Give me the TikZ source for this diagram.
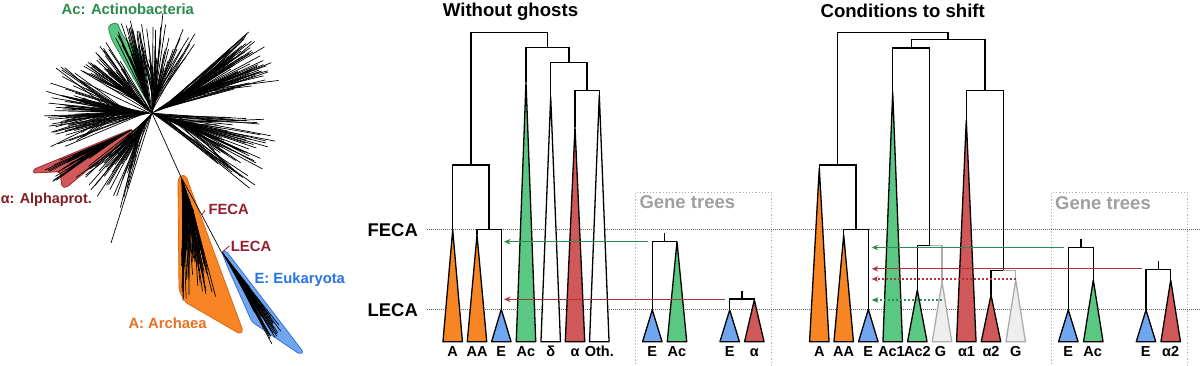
\documentclass[tikz,border=0pt]{standalone}
\usepackage{fontspec}
\setmainfont{Liberation Sans}
\usetikzlibrary{calc,arrows.meta}
\definecolor{cgreen}{RGB}{90,200,130}
\definecolor{cgreenD}{RGB}{40,140,80}
\definecolor{corange}{RGB}{247,133,36}
\definecolor{corangeD}{RGB}{220,105,20}
\definecolor{cred}{RGB}{208,88,88}
\definecolor{credD}{RGB}{160,45,50}
\definecolor{cblue}{RGB}{112,165,240}
\definecolor{cblueD}{RGB}{50,115,225}
\definecolor{tgreen}{RGB}{40,140,75}
\definecolor{tred}{RGB}{130,28,35}
\definecolor{tfeca}{RGB}{150,30,45}
\definecolor{tblue}{RGB}{40,115,235}
\definecolor{torange}{RGB}{232,112,30}
\definecolor{agreen}{RGB}{45,140,85}
\definecolor{ared}{RGB}{170,55,60}
\definecolor{ghostF}{RGB}{238,238,238}
\definecolor{ghostD}{RGB}{172,172,172}
\definecolor{boxgray}{RGB}{175,175,175}
\definecolor{gtgray}{RGB}{160,160,160}
\definecolor{refgray}{RGB}{95,95,95}
\newcommand\cladetri[5]{%
  \coordinate (#1) at (#2,#3);
  \filldraw[tri, fill=#4, draw=#5] (#1) -- ({#2-9.75},341.7) -- ({#2+9.75},341.7) -- cycle;}
\newcommand\fan[8]{%
  \foreach \k in {1,...,#8}{%
    \pgfmathsetmacro\fa{#4+rnd*(#5-#4)}%
    \pgfmathsetmacro\fl{#6+rnd*(#7-#6)}%
    \pgfmathsetmacro\fs{rnd*0.6*#6}%
    \draw[twig] ($(#1,#2)+(#3:\fs)$) -- ($(#1,#2)+(\fa:\fl)$);
  }}
\tikzset{
  br/.style={line width=1.4pt},
  gbr/.style={line width=1.4pt, draw=ghostD},
  tri/.style={line width=1.3pt, line join=round},
  twig/.style={line width=0.7pt, black},
  refline/.style={draw=refgray, line width=0.9pt, dash pattern=on 1pt off 1pt},
  gbox/.style={draw=boxgray, line width=1pt, dash pattern=on 1.2pt off 2pt},
  arr/.style={line width=1.4pt, -{Stealth[length=6.5pt,width=5.5pt]}},
  darr/.style={arr, dash pattern=on 2pt off 2pt},
  ttl/.style={font=\bfseries\fontsize{18.6}{20}\selectfont, inner sep=0pt, anchor=base},
  lvl/.style={font=\bfseries\fontsize{18.4}{20}\selectfont, inner sep=0pt, anchor=east},
  tl/.style={font=\bfseries\fontsize{14.5}{16}\selectfont, inner sep=0pt, anchor=base},
  gt/.style={font=\bfseries\fontsize{18.5}{20}\selectfont, inner sep=0pt, anchor=base west, text=gtgray},
  ll/.style={font=\bfseries\fontsize{14.8}{16}\selectfont, inner sep=0pt},
  hull/.style={line width=0.8pt, rounded corners=2pt, line join=round},
}
\begin{document}
\begin{tikzpicture}[x=1pt,y=-1pt]
\useasboundingbox (0,0) rectangle (1200,366);
\fill[white] (0,0) rectangle (1200,366);

% ---------------- left: unrooted tree ----------------
\pgfmathsetseed{11}
\filldraw[hull, fill=cgreen, draw=cgreenD] (109,25) -- (117,22.5) -- (123,36) -- (131,45.5) -- (139,50) -- (144,66.7) -- (148.8,97) -- (147,101) -- (144.5,97) -- (112.5,41) -- (108.5,30) -- cycle;
\filldraw[hull, fill=cred, draw=credD] (33.3,169.5) -- (131.7,129) -- (133.5,132) -- (66.7,187.3) -- (62,187.3) -- (60,171.7) -- (33.3,173) -- cycle;
\filldraw[hull, fill=corange, draw=corangeD] (181,175) -- (186,176) -- (243,331) -- (240,334) -- (185,302) -- (179,290) -- (178,180) -- cycle;
\filldraw[hull, fill=cblue, draw=cblueD] (221.7,251.7) -- (226,250.7) -- (303.3,352) -- (300,354.3) -- (252,322) -- (228,268) -- cycle;

\fan{152}{113}{-27}{-40}{-14}{85}{132}{70}
\fan{152}{113}{18}{3}{38}{65}{128}{70}
\fan{152}{113}{-78}{-100}{-55}{45}{90}{45}
\fan{152}{113}{-108}{-117}{-99}{55}{97}{35}
\fan{152}{113}{182}{158}{208}{70}{108}{80}
\fan{152}{113}{-135}{-150}{-120}{50}{85}{45}
\fan{135}{128}{152}{145}{157}{45}{100}{45}
\fan{152}{113}{123}{108}{140}{50}{100}{45}
\fan{181}{177}{70}{73}{90}{60}{125}{75}
\fan{222}{252}{55}{51}{62}{35}{105}{50}
\coordinate (ctr) at (152,113);
\coordinate (fecaP) at (201.8,215);
\coordinate (lecaP) at (221.7,252.7);
\coordinate (ctop) at (163,13);
\coordinate (cbot) at (111,243);
\draw[twig] (ctr) -- (ctop);
\draw[twig] (ctr) -- (cbot);
\draw[twig] (ctr) -- (181,177) -- (fecaP) -- (lecaP);

\node[ll, text=tgreen, anchor=base] (lAc) at (127.8,15) {Ac: Actinobacteria};
\node[ll, text=tred, anchor=base east, font=\bfseries\fontsize{14.4}{16}\selectfont] (lAl) at (92,203.3) {α: Alphaprot.};
\node[ll, text=tfeca, anchor=base west] (lFe) at (208.3,214.3) {FECA};
\node[ll, text=tfeca, anchor=base west] (lLe) at (230.7,252) {LECA};
\node[ll, text=tblue, anchor=base west] (lEu) at (254.3,283.3) {E: Eukaryota};
\node[ll, text=torange, anchor=base west] (lAr) at (128.3,328.3) {A: Archaea};
\draw[tfeca, line width=0.8pt] (205,210) -- (fecaP);
\draw[tfeca, line width=0.8pt] (229.3,246) -- (lecaP);

% ---------------- reference lines and boxes ----------------
\node[lvl] (feca) at (418,230) {FECA};
\node[lvl] (leca) at (418,309.7) {LECA};
\coordinate (fecaL) at (427,229.3); \coordinate (fecaR) at (1200,229.3);
\coordinate (lecaL) at (427,309.3); \coordinate (lecaR) at (1200,309.3);
\draw[refline] (fecaL) -- (fecaR);
\draw[refline] (lecaL) -- (lecaR);
\draw[gbox] (635.7,367) |- (771.7,192.3) -- (771.7,367);
\draw[gbox] (1051.7,367) |- (1187.7,192.3) -- (1187.7,367);
\node[gt] (gt1) at (639.3,208.3) {Gene trees};
\node[gt] (gt2) at (1055,209.3) {Gene trees};

% ---------------- middle: without ghosts ----------------
\node[ttl] (t1) at (510.5,17) {Without ghosts};
\cladetri{mA}{452.7}{230}{corange}{black}
\cladetri{mAA}{477}{235}{corange}{black}
\cladetri{mE}{501.3}{309.3}{cblue}{black}
\cladetri{mAc}{526}{82}{cgreen}{black}
\cladetri{mD}{550.7}{97}{white}{black}
\cladetri{mAl}{575}{127}{cred}{black}
\cladetri{mO}{599.3}{95}{white}{black}
\coordinate (mn2) at (489.15,229.3);
\coordinate (mn1) at (470.9,165);
\coordinate (mn5) at (587.15,90.3);
\coordinate (mn4) at (568.9,62.7);
\coordinate (mn3) at (547.45,47.3);
\coordinate (mroot) at (509.2,32.7);
\draw[br] (mAA) |- (mn2) -| (mE);
\draw[br] (mA) |- (mn1) -| (mn2);
\draw[br] (mAl) |- (mn5) -| (mO);
\draw[br] (mD) |- (mn4) -| (mn5);
\draw[br] (mAc) |- (mn3) -| (mn4);
\draw[br] (mn1) |- (mroot) -| (mn3);
\foreach \n/\x/\t in {A/452.7/A, AA/477/AA, E/501.3/E, Ac/526/Ac, D/550.7/δ, Al/575/α, O/599.3/Oth.}
  \node[tl] (ml\n) at (\x,356.7) {\t};

% gene trees (middle)
\cladetri{gE1}{652.3}{310}{cblue}{black}
\cladetri{gAc}{677}{241.7}{cgreen}{black}
\cladetri{gE2}{729.7}{310}{cblue}{black}
\cladetri{gAl}{754.3}{300}{cred}{black}
\coordinate (g1) at (664.65,241.7); \coordinate (g1s) at (664.65,233.3);
\coordinate (g2) at (742,299); \coordinate (g2s) at (742,290.7);
\draw[br] (gE1) |- (g1) -| (gAc); \draw[br] (g1) -- (g1s);
\draw[br] (gE2) |- (g2) -| (gAl); \draw[br] (g2) -- (g2s);
\foreach \n/\x/\t in {E1/652.3/E, Ac/677/Ac, E2/729.7/E, Al/754.3/α}
  \node[tl] (gl\n) at (\x,356.7) {\t};
\coordinate (ma1s) at (648,241.7); \coordinate (ma1e) at (504,241.7);
\coordinate (ma2s) at (725,299.3); \coordinate (ma2e) at (504,299.3);
\draw[arr, agreen] (ma1s) -- (ma1e);
\draw[arr, ared] (ma2s) -- (ma2e);

% ---------------- right: conditions to shift ----------------
\node[ttl] (t2) at (902.7,17.3) {Conditions to shift};
\cladetri{rA}{819.3}{168}{corange}{black}
\cladetri{rAA}{843.7}{235}{corange}{black}
\cladetri{rE}{868.3}{309.3}{cblue}{black}
\cladetri{rAc1}{892.7}{92}{cgreen}{black}
\cladetri{rAc2}{917.3}{290}{cgreen}{black}
\cladetri{rG1}{942}{282}{ghostF}{ghostD}
\cladetri{rAl1}{966.3}{120}{cred}{black}
\cladetri{rAl2}{991}{295}{cred}{black}
\cladetri{rG2}{1015.7}{280}{ghostF}{ghostD}
\coordinate (rn2) at (856,229.3);
\coordinate (rn1) at (837.65,165);
\coordinate (rn6) at (929.65,245.8);
\coordinate (rn4) at (911.2,48);
\coordinate (rn7) at (1003.35,270.5);
\coordinate (rn5) at (984.8,90.3);
\coordinate (rn3) at (948,39.3);
\coordinate (rroot) at (892.8,32.7);
\draw[br] (rAA) |- (rn2) -| (rE);
\draw[br] (rA) |- (rn1) -| (rn2);
\draw[gbr] (rn6) -| (rG1);
\draw[br] (rAc2) |- (rn6);
\draw[br] (rAc1) |- (rn4) -| (rn6);
\draw[gbr] (rn7) -| (rG2);
\draw[br] (rAl2) |- (rn7);
\draw[br] (rAl1) |- (rn5) -| (rn7);
\draw[br] (rn4) |- (rn3) -| (rn5);
\draw[br] (rn1) |- (rroot) -| (rn3);
\foreach \n/\x/\t in {A/819.3/A, AA/843.7/AA, E/868.3/E, Ac1/891.5/Ac1, Ac2/917.5/Ac2, G1/940.5/G, Al1/966.5/α1, Al2/991/α2, G2/1015.7/G}
  \node[tl] (rl\n) at (\x,356.7) {\t};

% gene trees (right)
\cladetri{hE1}{1068.3}{310}{cblue}{black}
\cladetri{hAc}{1093.3}{280}{cgreen}{black}
\cladetri{hE2}{1146}{310}{cblue}{black}
\cladetri{hAl}{1170.7}{280}{cred}{black}
\coordinate (h1) at (1080.8,247.3); \coordinate (h1s) at (1080.8,239);
\coordinate (h2) at (1158.35,269.3); \coordinate (h2s) at (1158.35,260.7);
\draw[br] (hE1) |- (h1) -| (hAc); \draw[br] (h1) -- (h1s);
\draw[br] (hE2) |- (h2) -| (hAl); \draw[br] (h2) -- (h2s);
\foreach \n/\x/\t in {E1/1068.3/E, Ac/1092.7/Ac, E2/1145.7/E, Al/1170.7/α2}
  \node[tl] (hl\n) at (\x,356.7) {\t};
\coordinate (ra1s) at (1064,247.5); \coordinate (ra1e) at (871.7,247.5);
\coordinate (ra2s) at (1141.7,268.8); \coordinate (ra2e) at (871.7,268.8);
\coordinate (ra3s) at (1015.7,279); \coordinate (ra3e) at (871.7,279);
\coordinate (ra4s) at (942,300); \coordinate (ra4e) at (871.7,300);
\draw[arr, agreen] (ra1s) -- (ra1e);
\draw[arr, ared] (ra2s) -- (ra2e);
\draw[darr, ared] (ra3s) -- (ra3e);
\draw[darr, agreen] (ra4s) -- (ra4e);
\end{tikzpicture}
\end{document}
